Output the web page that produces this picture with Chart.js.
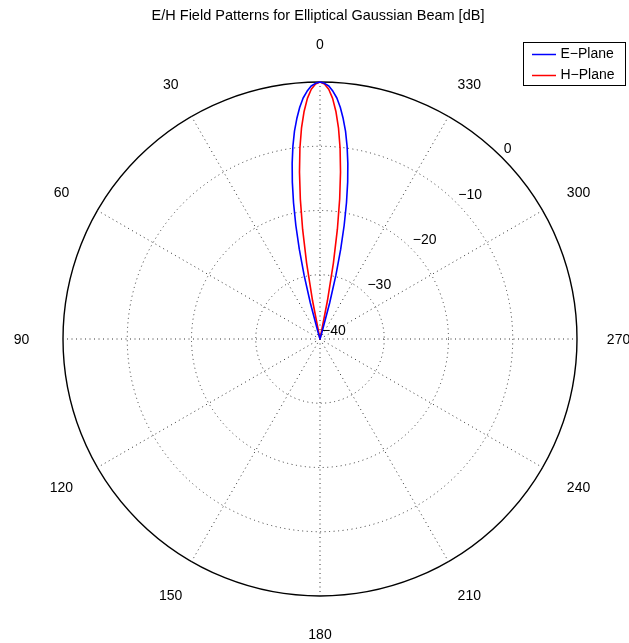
<!DOCTYPE html>
<html>
<head>
<meta charset="utf-8">
<script src="https://cdn.jsdelivr.net/npm/chart.js@4/dist/chart.umd.min.js"></script>
<style>
  html, body { margin: 0; padding: 0; background: #fff; }
  canvas { display: block; }
</style>
</head>
<body>
<canvas id="c" width="629" height="643"></canvas>
<script>
// ---- data (dB vs angle in degrees, symmetric beam) ----
const titleText = 'E/H Field Patterns for Elliptical Gaussian Beam [dB]';
const angleTickLabels = [0, 30, 60, 90, 120, 150, 180, 210, 240, 270, 300, 330];
const radialTickLabels = [-40, -30, -20, -10, 0];
const floorDb = -40;
const beamAngles = [0, 1, 2, 3, 4, 5, 6, 7, 8, 9, 10, 11, 12, 13, 14, 15, 16, 17];
const ePlaneDb = [0, -0.2, -0.6, -1.4, -2.4, -3.8, -5.5, -7.4, -9.7, -12.3, -15.2, -18.4, -21.9, -25.7, -29.8, -34.2, -38.9, -40];
const hPlaneDb = [0, -0.3, -1.1, -2.5, -4.5, -7.0, -10.1, -13.8, -18.0, -22.7, -28.0, -33.9, -40, -40, -40, -40, -40, -40];
const seriesNames = ['E\u2212Plane', 'H\u2212Plane'];
const seriesColors = ['#0000ff', '#ff0000'];

// ---- build the radar table (index i is clockwise; plot angle runs counter-clockwise) ----
const N = 360;
const labels = [];
const angleOf = [];
for (let i = 0; i < N; i++) { const th = (N - i) % N; angleOf.push(th); labels.push(String(th)); }
function seriesFor(vals) {
  return angleOf.map(th => {
    const a = th > 180 ? 360 - th : th;
    const k = beamAngles.indexOf(a);
    return k >= 0 ? vals[k] : floorDb;
  });
}

const font = '"Liberation Sans", Arial, Helvetica, sans-serif';

const decorPlugin = {
  id: 'decor',
  afterDraw(chart) {
    const ctx = chart.ctx;
    const s = chart.scales.r;
    ctx.save();
    ctx.fillStyle = '#000';
    ctx.font = '14px ' + font;
    // angle labels
    ctx.textAlign = 'center';
    ctx.textBaseline = 'middle';
    angleTickLabels.forEach(a => {
      const i = angleOf.indexOf(a);
      const p = s.getPointPosition(i, s.drawingArea + 38);
      const dx = p.x - s.xCenter;
      ctx.fillText(String(a), p.x + dx * 0.012, p.y + 1.5);
    });
    // radial tick labels along the 45 degree direction (upper right)
    ctx.textAlign = 'left';
    const c = Math.SQRT1_2;
    radialTickLabels.forEach(v => {
      const r = s.getDistanceFromCenterForValue(v);
      const txt = v < 0 ? '\u2212' + Math.abs(v) : String(v);
      ctx.fillText(txt, s.xCenter + r * c + 2, s.yCenter - r * c - 8);
    });
    // title
    ctx.textAlign = 'center';
    ctx.font = '14.5px ' + font;
    ctx.fillText(titleText, 318, 16);
    ctx.font = '14px ' + font;
    // legend box
    const bx = 523.5, by = 42.5, bw = 102, bh = 43;
    ctx.fillStyle = '#fff';
    ctx.fillRect(bx, by, bw, bh);
    ctx.strokeStyle = '#000';
    ctx.lineWidth = 1;
    ctx.strokeRect(bx, by, bw, bh);
    chart.data.datasets.forEach((ds, k) => {
      const y = 54.5 + k * 21;
      ctx.strokeStyle = ds.borderColor;
      ctx.lineWidth = 1.5;
      ctx.beginPath();
      ctx.moveTo(532, y);
      ctx.lineTo(556, y);
      ctx.stroke();
      ctx.fillStyle = '#000';
      ctx.textAlign = 'left';
      ctx.fillText(ds.label, 560.5, y);
    });
    ctx.restore();
  }
};

new Chart(document.getElementById('c'), {
  type: 'radar',
  data: {
    labels: labels,
    datasets: [
      { label: seriesNames[0], data: seriesFor(ePlaneDb), borderColor: seriesColors[0], borderWidth: 1.6, pointRadius: 0, fill: false, tension: 0 },
      { label: seriesNames[1], data: seriesFor(hPlaneDb), borderColor: seriesColors[1], borderWidth: 1.6, pointRadius: 0, fill: false, tension: 0 }
    ]
  },
  options: {
    responsive: false,
    devicePixelRatio: 1,
    animation: false,
    layout: { padding: { left: 63, right: 52, top: 82, bottom: 47 } },
    plugins: { legend: { display: false }, title: { display: false }, tooltip: { enabled: false } },
    elements: { line: { borderJoinStyle: 'round' } },
    scales: {
      r: {
        min: -40,
        max: 0,
        beginAtZero: false,
        ticks: { display: false, stepSize: 10 },
        pointLabels: { display: false },
        grid: {
          circular: true,
          color: ctx => ctx.index === 4 ? '#000' : '#333',
          lineWidth: ctx => ctx.index === 0 ? 0 : (ctx.index === 4 ? 1.4 : 1)
        },
        border: {
          dash: ctx => ctx.index === 4 ? [] : [1, 3.5]
        },
        angleLines: {
          display: true,
          color: '#333',
          lineWidth: ctx => (angleOf[ctx.index] % 30 === 0) ? 1 : 0,
          borderDash: [1, 3.5]
        }
      }
    }
  },
  plugins: [decorPlugin]
});
</script>
</body>
</html>
